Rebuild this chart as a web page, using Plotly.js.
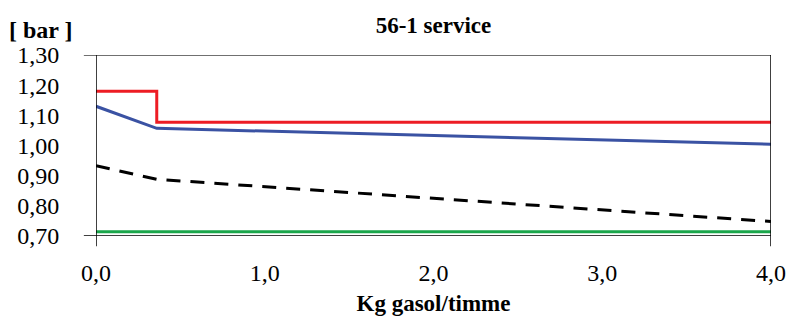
<!DOCTYPE html>
<html>
<head>
<meta charset="utf-8">
<script src="https://cdn.plot.ly/plotly-3.0.1.min.js"></script>
<style>html,body{margin:0;padding:0;background:#fff;}#chart{width:793px;height:316px;}</style>
</head>
<body>
<div id="chart"></div>
<script>
// Data
const redX = [0, 0.36, 0.36, 4.0];
const redY = [1.18, 1.18, 1.077, 1.077];
const blueX = [0, 0.36, 4.0];
const blueY = [1.13, 1.057, 1.004];
const blackX = [0, 0.36, 4.0];
const blackY = [0.933, 0.888, 0.748];
const greenX = [0, 4.0];
const greenY = [0.714, 0.714];
const xTicks = [0, 1, 2, 3, 4];
const xTickText = ["0,0", "1,0", "2,0", "3,0", "4,0"];
const yTicks = [0.7, 0.8, 0.9, 1.0, 1.1, 1.2, 1.3];
const yTickText = ["0,70", "0,80", "0,90", "1,00", "1,10", "1,20", "1,30"];
const chartTitle = "56-1 service";
const yLabel = "[ bar ]";
const xLabel = "Kg gasol/timme";

const font = "Liberation Serif";

const traces = [
  {x: greenX, y: greenY, mode: "lines", line: {color: "#1aa64b", width: 3}},
  {x: blackX, y: blackY, mode: "lines", line: {color: "#000000", width: 3, dash: "14px,10px"}},
  {x: blueX, y: blueY, mode: "lines", line: {color: "#3a52a3", width: 3}},
  {x: redX, y: redY, mode: "lines", line: {color: "#ed1c24", width: 3}}
];

const layout = {
  width: 793, height: 316,
  margin: {l: 96, r: 22, t: 55, b: 80},
  paper_bgcolor: "#fff", plot_bgcolor: "#fff",
  showlegend: false,
  font: {family: font, size: 24, color: "#000"},
  title: {text: "<b>" + chartTitle + "</b>", x: 0.5, xref: "paper", y: 1, yref: "container", yanchor: "top", pad: {t: 17}, font: {family: font, size: 23, color: "#000"}},
  xaxis: {
    range: [0, 4], tickvals: xTicks, ticktext: xTickText,
    showgrid: false, zeroline: false, showline: false,
    ticks: "outside", ticklen: 15, tickcolor: "rgba(255,255,255,0)",
    tickfont: {family: font, size: 24, color: "#000"},
    title: {text: "<b>" + xLabel + "</b>", font: {family: font, size: 23, color: "#000"}},
    fixedrange: true
  },
  yaxis: {
    range: [0.7, 1.3], tickvals: yTicks, ticktext: yTickText,
    showgrid: false, zeroline: false, showline: false,
    ticks: "outside", ticklen: 31, tickcolor: "rgba(255,255,255,0)",
    tickfont: {family: font, size: 24, color: "#000"},
    fixedrange: true
  },
  shapes: [
    {type: "line", xref: "paper", yref: "y", x0: -0.018, x1: 1, y0: 0.7, y1: 0.7, line: {color: "#000", width: 1.5}},
    {type: "line", xref: "paper", yref: "y", x0: -0.018, x1: 1, y0: 1.3, y1: 1.3, line: {color: "#404040", width: 1.5}},
    {type: "line", xref: "x", yref: "paper", x0: 0, x1: 0, y0: -0.057, y1: 1, line: {color: "#000", width: 1.5}},
    {type: "line", xref: "x", yref: "paper", x0: 4, x1: 4, y0: -0.057, y1: 1, line: {color: "#000", width: 1.5}}
  ],
  annotations: [
    {text: "<b>" + yLabel + "</b>", xref: "paper", yref: "paper", x: -0.081, y: 1.138, xanchor: "center", yanchor: "middle", showarrow: false, font: {family: font, size: 24, color: "#000"}}
  ]
};

Plotly.newPlot("chart", traces, layout, {displayModeBar: false, staticPlot: true});
</script>
</body>
</html>
